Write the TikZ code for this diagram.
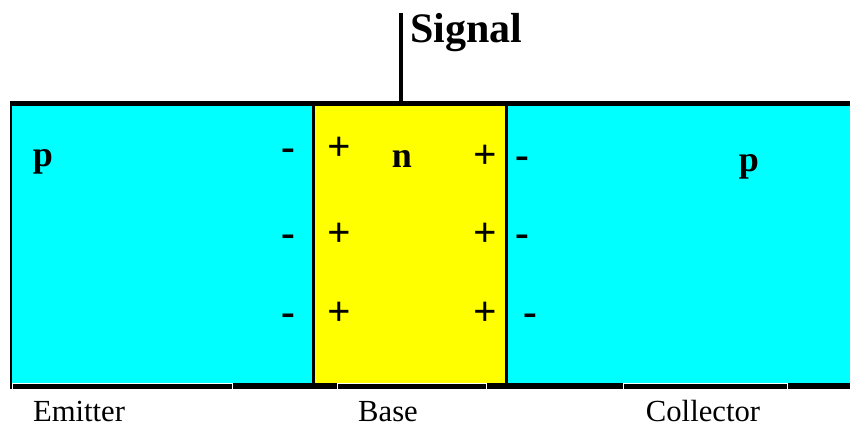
\documentclass[tikz,border=0pt]{standalone}
\usepackage{fontspec}
\setmainfont{Liberation Serif}
\usepackage{tikz}
\definecolor{ptype}{RGB}{0,255,255}
\definecolor{ntype}{RGB}{255,255,0}

\begin{document}
\begin{tikzpicture}[x=0.75pt, y=-0.75pt,
  charge/.style={font=\fontsize{31}{31}\selectfont\bfseries, anchor=base, inner sep=0pt},
  dopant/.style={font=\fontsize{27}{27}\selectfont\bfseries, anchor=base, inner sep=0pt},
  partname/.style={font=\fontsize{23}{23}\selectfont, anchor=base, inner sep=0pt},
  bracket/.style={draw=white, line width=0.75pt}]
\useasboundingbox (0,0) rectangle (850,426);
% layers
\fill[ptype] (11,103) rectangle (850,386);
\fill[ntype] (313,103) rectangle (507,386);
\draw[line width=1.5pt] (11,103) -- (11,389);
\draw[line width=2.25pt] (313,103) -- (313,386);
\draw[line width=2.25pt] (506.5,103) -- (506.5,386);
\draw[line width=3.75pt] (10,103.5) -- (850,103.5);
\draw[line width=4.5pt] (10,386) -- (850,386);
% signal lead
\node[font=\fontsize{31.5}{31.5}\selectfont\bfseries, anchor=base west, inner sep=0pt] (signal) at (410,42) {Signal};
\coordinate (tap) at (401,103);
\draw[line width=3pt] (tap) -- (tap |- signal.north);
% doping
\node[dopant] (emp) at (43,166) {p};
\node[dopant] (basen) at (402,167) {n};
\node[dopant] (colp) at (749,171) {p};
% charges at the junctions
\foreach \n/\yl/\yr/\xr in {1/160/168/522, 2/246/246/522, 3/325/325/530} {
  \node[charge] (em-\n) at (288,\yl) {-};
  \node[charge] (bl-\n) at (339,\yl) {+};
  \node[charge] (br-\n) at (485,\yr) {+};
  \node[charge] (co-\n) at (\xr,\yr) {-};
}
% brackets and names
\draw[bracket] (12,389) -- (12,383) -- (232,383) -- (232,389);
\draw[bracket] (337,389) -- (337,383) -- (486,383) -- (486,389);
\draw[bracket] (623,389) -- (623,383) -- (787,383) -- (787,389);
\node[partname] (emitter) at (79,421) {Emitter};
\node[partname] (base) at (388,421) {Base};
\node[partname] (collector) at (703,421) {Collector};
\end{tikzpicture}
\end{document}
